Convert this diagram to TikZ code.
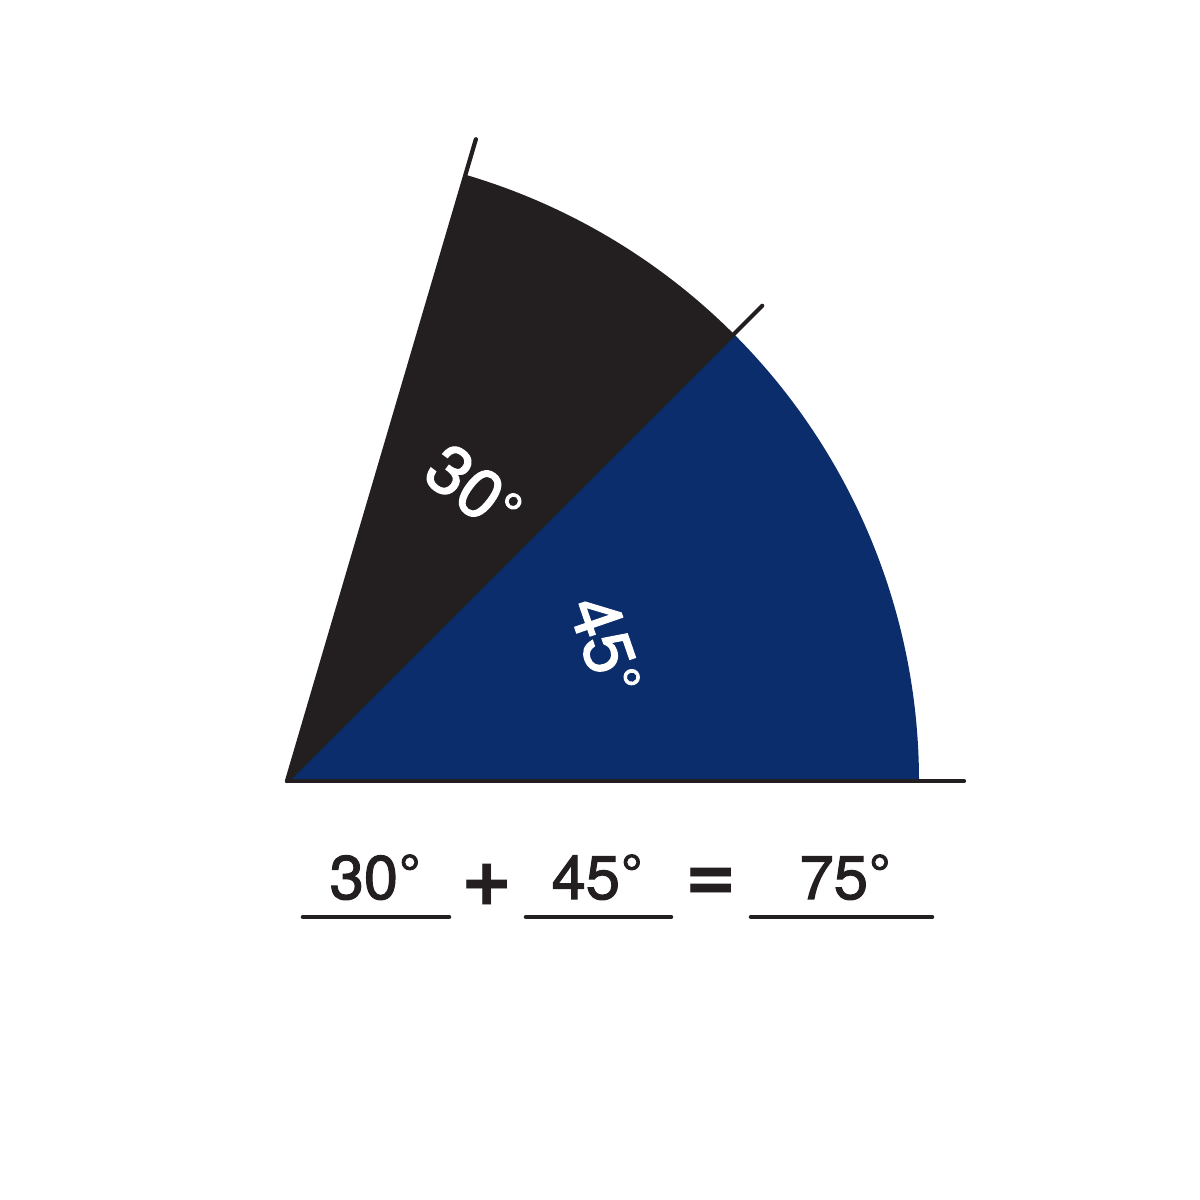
\documentclass[tikz,border=0pt]{standalone}
\usepackage{fontspec}
\setmainfont{TeX Gyre Heros}
\newfontfamily\medfont[FakeBold=1.8]{TeX Gyre Heros}
\usepackage{tikz}
\usetikzlibrary{positioning,calc}
\definecolor{sectorblack}{RGB}{35,31,32}
\definecolor{sectorblue}{RGB}{11,45,107}
\tikzstyle{ray}=[line width=1.2pt,line cap=round,draw=sectorblack]
\tikzstyle{blank}=[line width=1.3pt,line cap=round,draw=sectorblack]
\tikzstyle{angtext}=[text=white,font=\medfont\fontsize{19.5}{22}\selectfont,inner sep=0pt]
\tikzstyle{eqtext}=[text=sectorblack,font=\medfont\fontsize{17.5}{20}\selectfont,inner sep=0pt]
\tikzstyle{optext}=[text=sectorblack,font=\bfseries\fontsize{25}{28}\selectfont,inner sep=0pt]
\def\radius{632}
\newcommand{\degsign}{\kern0.02em\raisebox{0.12em}{\fontsize{15}{15}\selectfont\textdegree}}

\begin{document}
\begin{tikzpicture}[x=0.1mm,y=0.1mm]
		\useasboundingbox (0,0) rectangle (1200,1200);
		% vertex of the angle
		\coordinate (O) at (287,419);

		% sectors
		\fill[sectorblue] (O) -- ++(0:\radius) arc[start angle=0,end angle=45,radius=\radius] -- cycle;
		\fill[sectorblack] (O) -- ++(45:\radius) arc[start angle=45,end angle=73.5,radius=\radius] -- cycle;

		% rays
		\coordinate (r0) at (964,419);
		\coordinate (r45) at ($(O)+(45:672)$);
		\coordinate (r75) at ($(O)+(73.6:669)$);
		\draw[ray] (O) -- (r0);
		\draw[ray] (O) -- (r45);
		\draw[ray] (O) -- (r75);

		% labels in the sectors
		\node[angtext,rotate=-37] (a30) at (474,711) {30\degsign};
		\node[angtext,rotate=-71] (a45) at (606,555) {45\degsign};

		% equation
		\node[eqtext,anchor=base] (e30) at (375,301) {30\degsign};
		\node[optext] (plus) at (487,315) {+};
		\node[eqtext,anchor=base] (e45) at (597,301) {45\degsign};
		\node[optext] (eq) at (711,315) {=};
		\node[eqtext,anchor=base] (e75) at (845,301) {75\degsign};
		\draw[blank] (303,283) -- (449,283);
		\draw[blank] (526,283) -- (671,283);
		\draw[blank] (751,283) -- (932,283);
	\end{tikzpicture}
\end{document}
